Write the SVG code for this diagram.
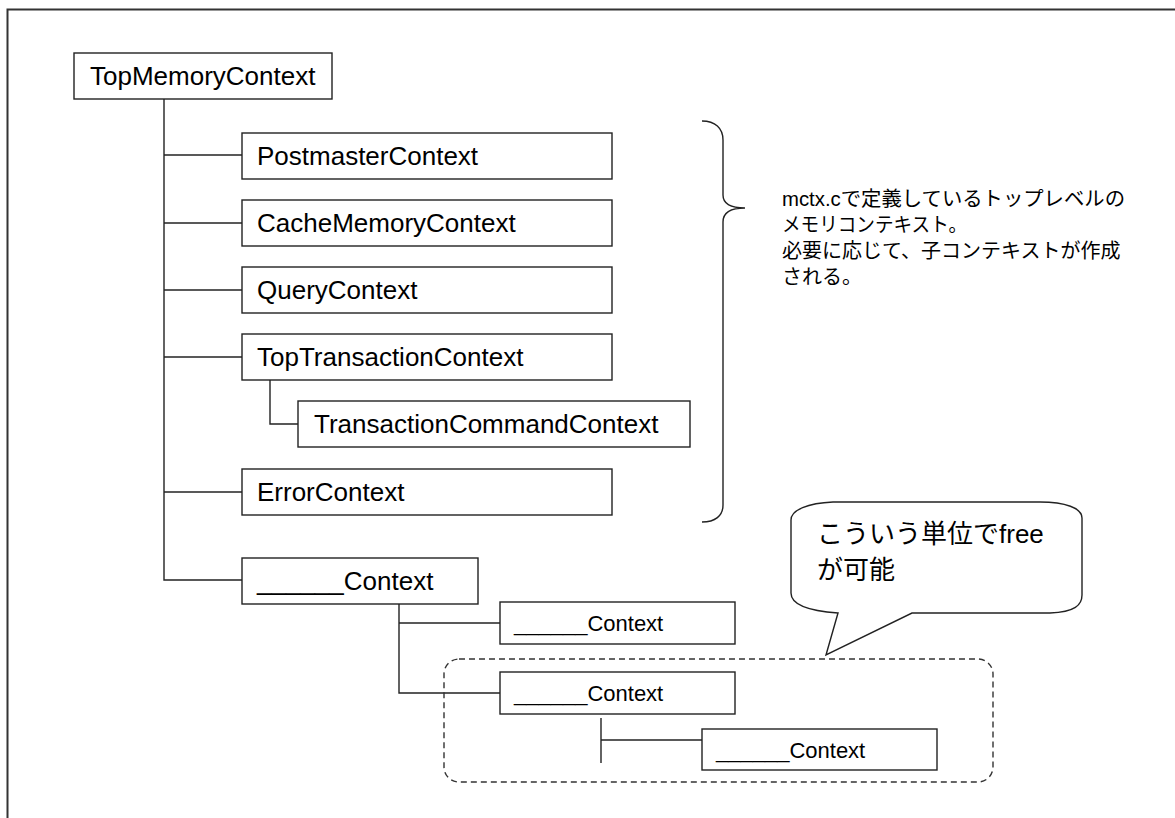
<svg xmlns="http://www.w3.org/2000/svg" width="1175" height="818" viewBox="0 0 1175 818">
<style>
.box{fill:#fff;stroke:#222;stroke-width:1.4}
.ln{fill:none;stroke:#222;stroke-width:1.4}
.lbl{font-family:"Liberation Sans",Arial,sans-serif;font-size:26px;fill:#000}
.sm{font-size:22px}
.jp{font-family:"Liberation Sans","Noto Sans CJK JP",sans-serif;fill:#000}
</style>
<rect width="1175" height="818" fill="#fff"/>
<path d="M7.5 818 V9.5 H1175" fill="none" stroke="#333" stroke-width="2"/>
<g id="connectors">
<path class="ln" d="M164 99 V580 H242"/>
<path class="ln" d="M164 155 H242"/>
<path class="ln" d="M164 223 H242"/>
<path class="ln" d="M164 290 H242"/>
<path class="ln" d="M164 357 H242"/>
<path class="ln" d="M164 492 H242"/>
<path class="ln" d="M270 380 V424 H298"/>
<path class="ln" d="M399 604 V693 H500"/>
<path class="ln" d="M399 623 H500"/>
<path class="ln" d="M601 718 V763"/>
<path class="ln" d="M601 740 H702"/>
</g>
<g id="group-free">
<rect x="444" y="659" width="549" height="123" rx="15" fill="none" stroke="#333" stroke-width="1.4" stroke-dasharray="6 4"/>
</g>
<g id="n-top"><rect class="box" x="74" y="53" width="258" height="46"/><text class="lbl" x="90" y="85.3">TopMemoryContext</text></g>
<g id="n-postmaster"><rect class="box" x="242" y="133" width="370" height="46"/><text class="lbl" x="257" y="165.3">PostmasterContext</text></g>
<g id="n-cache"><rect class="box" x="242" y="200" width="370" height="46"/><text class="lbl" x="257" y="232.3">CacheMemoryContext</text></g>
<g id="n-query"><rect class="box" x="242" y="267" width="370" height="46"/><text class="lbl" x="257" y="299.3">QueryContext</text></g>
<g id="n-toptx"><rect class="box" x="242" y="334" width="370" height="46"/><text class="lbl" x="257" y="366.3">TopTransactionContext</text></g>
<g id="n-txcmd"><rect class="box" x="298" y="401" width="392" height="46"/><text class="lbl" x="314" y="433.3">TransactionCommandContext</text></g>
<g id="n-error"><rect class="box" x="242" y="469" width="370" height="46"/><text class="lbl" x="257" y="501.3">ErrorContext</text></g>
<g id="n-ctx1"><rect class="box" x="242" y="558" width="236" height="46"/><text class="lbl" x="257" y="590.3">______Context</text></g>
<g id="n-ctx2"><rect class="box" x="500" y="602" width="235" height="42"/><text class="lbl sm" x="514" y="631">______Context</text></g>
<g id="n-ctx3"><rect class="box" x="500" y="672" width="235" height="42"/><text class="lbl sm" x="514" y="701">______Context</text></g>
<g id="n-ctx4"><rect class="box" x="702" y="729" width="235" height="41"/><text class="lbl sm" x="716" y="757.5">______Context</text></g>
<g id="brace">
<path class="ln" d="M702 121 C715 121 723 128 723 140 V195 C723 203 730 208 745 208 C730 208 723 213 723 222 V505 C723 516 715 522 702 522"/>
</g>
<g id="note" class="jp" font-size="20">
<text x="782" y="206" textLength="343" lengthAdjust="spacingAndGlyphs">mctx.cで定義しているトップレベルの</text>
<text x="782" y="232" textLength="185" lengthAdjust="spacingAndGlyphs">メモリコンテキスト。</text>
<text x="782" y="258">必要に応じて、子コンテキストが作成</text>
<text x="782" y="284">される。</text>
</g>
<g id="callout">
<path d="M838 613 L826 655 L912 613 H1050 C1075 612 1082 605 1082 595 V518 C1082 508 1065 502 1040 502 H833 C808 503 791 510 791 520 V593 C791 605 810 611 838 613 Z" fill="#fff" stroke="#222" stroke-width="1.4"/>
<text class="jp" font-size="26" x="817" y="543">こういう単位でfree</text>
<text class="jp" font-size="26" x="817" y="579">が可能</text>
</g>
</svg>
